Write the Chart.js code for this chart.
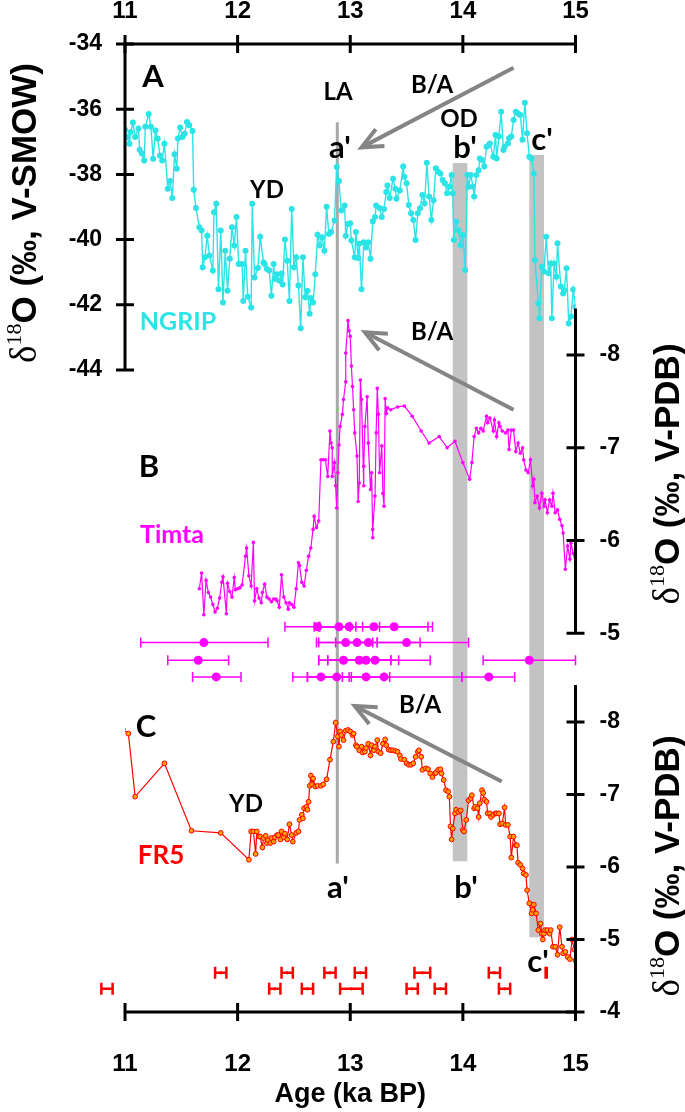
<!DOCTYPE html>
<html>
<head>
<meta charset="utf-8">
<script src="https://cdn.jsdelivr.net/npm/chart.js@4/dist/chart.umd.min.js"></script>
<style>
  html, body { margin: 0; padding: 0; background: #fff; }
</style>
</head>
<body>
<canvas id="chart" width="685" height="1112"></canvas>
<script>
// ---- data (age in ka BP, d18O in permil) ----
const xTicks = [11, 12, 13, 14, 15];
const ngripTicks = [-34, -36, -38, -40, -42, -44];
const timtaTicks = [-8, -7, -6, -5];
const fr5Ticks = [-8, -7, -6, -5, -4];

const ngripAge = [
  11.00,11.02,11.04,11.05,11.07,11.09,11.12,11.13,11.15,11.17,
  11.18,11.21,11.23,11.25,11.27,11.29,11.31,11.33,11.35,11.38,
  11.40,11.42,11.44,11.46,11.47,11.49,11.51,11.53,11.55,11.57,
  11.60,11.61,11.63,11.66,11.68,11.69,11.71,11.73,11.75,11.78,
  11.79,11.81,11.83,11.85,11.87,11.89,11.91,11.93,11.95,11.97,
  11.99,12.01,12.04,12.05,12.07,12.09,12.12,12.13,12.15,12.18,
  12.20,12.23,12.24,12.26,12.28,12.30,12.32,12.33,12.35,12.37,
  12.39,12.40,12.42,12.44,12.46,12.48,12.50,12.52,12.54,12.56,
  12.58,12.60,12.62,12.64,12.65,12.67,12.69,12.71,12.73,12.75,
  12.77,12.79,12.81,12.83,12.86,12.88,12.90,12.92,12.95,12.96,
  12.98,13.00,13.01,13.04,13.05,13.07,13.08,13.10,13.12,13.14,
  13.16,13.18,13.20,13.22,13.23,13.26,13.28,13.30,13.32,13.33,
  13.35,13.38,13.40,13.41,13.44,
  13.47,13.48,13.50,13.52,13.54,13.56,13.58,13.60,13.62,13.64,
  13.66,13.68,13.70,13.72,13.74,13.76,13.78,13.80,13.82,13.84,
  13.86,13.88,13.90,13.91,13.92,13.94,13.96,13.98,14.00,14.02,
  14.04,14.05,14.07,14.09,14.10,14.12,14.14,14.15,14.17,14.19,
  14.21,14.23,14.24,14.27,14.29,14.30,14.32,14.34,14.36,14.37,
  14.40,14.41,14.43,14.45,14.47,14.49,14.51,14.53,14.55,14.57,
  14.59,14.61,14.63,14.64,14.67,14.68,14.70,14.72,14.74,14.76,
  14.78,14.79,14.81,14.83,14.84,14.87,14.89,14.90,14.92,14.94,
  14.96,14.98,15.00
];
const ngripD18O = [
  -36.63,-36.85,-37.06,-36.70,-36.41,-36.85,-36.59,-37.24,-37.36,-37.57,
  -36.54,-36.15,-36.54,-37.52,-36.65,-36.90,-37.42,-37.57,-37.06,-38.44,
  -38.20,-38.72,-37.38,-37.83,-36.90,-36.56,-36.85,-36.75,-36.39,-36.49,
  -36.67,-38.47,-39.03,-39.62,-39.72,-40.85,-40.54,-39.88,-40.49,-40.95,
  -39.16,-38.90,-41.52,-39.72,-41.93,-40.34,-41.57,-40.59,-39.62,-40.18,
  -39.31,-40.75,-40.75,-41.88,-40.34,-41.75,-42.08,-38.90,-41.16,-40.87,
  -39.91,-40.70,-40.75,-40.90,-40.95,-41.72,-40.75,-41.21,-41.06,-41.26,
  -41.04,-41.38,-40.00,-40.65,-41.88,-39.06,-40.85,-40.54,-41.41,-42.72,
  -40.54,-41.77,-41.57,-42.27,-41.79,-41.93,-41.06,-39.85,-40.18,-39.93,
  -40.34,-38.99,-39.83,-39.77,-39.41,-37.77,-38.20,-39.11,-38.95,-39.88,
  -39.52,-39.50,-40.03,-40.54,-39.77,-40.56,-40.13,-41.52,-40.08,-40.24,
  -40.08,-40.59,-39.44,-39.31,-38.95,-39.03,-39.31,-39.06,-38.54,-38.34,
  -38.72,-38.13,-38.44,-38.75,-38.49,
  -37.76,-38.07,-38.27,-38.94,-39.19,-39.40,-40.01,-39.19,-39.04,-38.63,
  -38.89,-37.64,-38.68,-39.40,-38.79,-37.81,-37.92,-37.97,-38.17,-38.27,
  -38.58,-38.38,-38.02,-38.58,-40.01,-39.45,-39.71,-40.17,-39.86,-40.93,
  -38.02,-38.38,-38.02,-38.38,-38.68,-38.02,-37.87,-37.51,-37.56,-37.76,
  -37.15,-37.10,-37.05,-37.46,-36.79,-37.51,-36.84,-36.08,-37.25,-37.15,
  -37.05,-36.89,-36.84,-36.33,-36.08,-36.13,-36.18,-36.94,-35.80,-36.74,
  -37.46,-37.51,-37.97,-40.63,-41.95,-42.41,-40.83,-40.98,-39.91,-41.03,
  -40.73,-42.41,-40.73,-41.14,-40.11,-41.44,-41.65,-41.55,-40.88,-42.57,
  -42.36,-41.53,-42.06
];

const timtaAge = [
  11.66,11.68,11.70,11.72,11.74,11.76,11.78,11.80,11.82,11.84,
  11.86,11.87,11.90,11.91,11.93,11.95,11.97,11.98,12.00,12.02,
  12.04,12.07,12.08,12.10,12.12,12.14,12.15,12.17,12.19,12.21,
  12.22,12.24,12.26,12.28,12.30,12.32,12.34,12.35,12.37,12.39,
  12.41,12.43,12.45,12.46,12.48,12.50,12.52,12.54,12.55,12.57,
  12.59,12.61,12.63,12.65,12.67,12.68,12.70,12.72,12.74,12.76,
  12.78,12.80,12.82,12.83,12.84,12.84,12.86,12.87,12.88,12.89,
  12.90,12.91,12.93,12.94,12.96,12.96,12.98,12.99,13.00,13.01,
  13.02,13.03,13.04,13.06,13.07,13.08,13.09,13.10,13.12,13.12,
  13.13,13.15,13.16,13.18,13.19,13.20,13.20,13.22,13.23,13.24,
  13.25,13.26,13.28,13.29,13.30,13.31,13.32,13.33,13.36,13.42,
  13.48,13.55,13.63,13.70,13.79,13.86,13.93,14.00,14.06,14.08,
  14.10,14.12,14.14,14.16,14.18,14.21,14.22,14.24,14.27,14.28,
  14.30,14.32,14.33,14.35,14.38,14.40,14.41,14.43,14.45,14.47,
  14.49,14.51,14.53,14.54,14.56,14.58,14.60,14.62,14.63,14.64,
  14.66,14.68,14.70,14.72,14.73,14.75,14.77,14.79,14.80,14.82,
  14.84,14.86,14.88,14.89,14.91,14.93,14.95,14.96,14.98,15.00
];
const timtaD18O = [
  -5.48,-5.65,-5.20,-5.57,-5.44,-5.39,-5.31,-5.23,-5.27,-5.38,
  -5.55,-5.61,-5.21,-5.54,-5.45,-5.39,-5.60,-5.47,-5.48,-5.49,
  -5.52,-5.83,-5.92,-5.62,-5.51,-5.98,-5.35,-5.48,-5.38,-5.33,
  -5.44,-5.53,-5.39,-5.37,-5.34,-5.37,-5.37,-5.35,-5.28,-5.63,
  -5.39,-5.33,-5.26,-5.33,-5.31,-5.28,-5.48,-5.76,-5.73,-5.55,
  -5.51,-5.68,-5.83,-5.92,-6.12,-6.26,-6.14,-6.21,-6.87,-6.87,
  -6.87,-6.69,-7.18,-7.05,-7.00,-6.69,-6.84,-6.59,-6.35,-6.73,
  -7.03,-7.23,-7.36,-7.52,-7.71,-8.02,-8.37,-8.26,-8.20,-7.88,
  -7.66,-7.41,-7.16,-6.91,-6.42,-6.62,-7.73,-7.52,-6.59,-6.80,
  -7.23,-7.55,-7.05,-6.55,-6.73,-6.03,-6.12,-6.48,-7.16,-7.64,
  -7.36,-6.73,-7.02,-6.51,-6.37,-7.53,-7.37,-7.43,-7.41,-7.44,
  -7.45,-7.34,-7.18,-7.05,-7.12,-7.00,-7.07,-6.84,-6.66,-6.84,
  -7.12,-7.21,-7.16,-7.21,-7.18,-7.34,-7.27,-7.32,-7.18,-7.30,
  -7.12,-7.27,-7.23,-7.18,-7.16,-7.19,-6.98,-7.19,-7.19,-6.96,
  -7.05,-6.94,-7.00,-6.87,-6.76,-6.73,-6.87,-6.59,-6.66,-6.41,
  -6.48,-6.35,-6.51,-6.37,-6.44,-6.30,-6.44,-6.37,-6.51,-6.30,
  -6.33,-6.23,-6.16,-6.08,-5.69,-5.94,-5.80,-5.97,-5.86,-5.76
];

// Timta U-Th dates, drawn as rows under the record
const timtaDateAge = [12.71,12.90,12.99,13.21,13.39, 11.70,12.96,13.06,13.16,13.50, 11.65,12.94,13.08,13.14,13.22,14.59, 11.81,12.74,12.88,13.14,13.30,14.23];
const timtaDateLo  = [12.42,12.68,12.72,12.73,13.05, 11.14,12.70,12.72,12.87,13.24, 11.38,12.72,12.80,12.80,12.72,14.18, 11.60,12.49,12.62,12.93,12.62,13.99];
const timtaDateHi  = [13.00,13.11,13.26,13.69,13.73, 12.27,13.20,13.24,13.62,14.05, 11.92,13.36,13.36,13.43,13.71,15.00, 12.03,12.99,13.01,13.35,13.99,14.46];
const timtaDateLevel = [-5.07,-5.07,-5.07,-5.07,-5.07, -4.90,-4.90,-4.90,-4.90,-4.90, -4.71,-4.71,-4.71,-4.71,-4.71,-4.71, -4.53,-4.53,-4.53,-4.53,-4.53,-4.53];

const fr5Age = [
  10.98,11.03,11.09,11.35,11.59,11.85,12.10,12.12,12.14,12.16,
  12.17,12.19,12.20,12.22,12.23,12.25,12.26,12.27,12.29,12.30,
  12.32,12.33,12.35,12.36,12.38,12.39,12.41,12.42,12.44,12.46,
  12.48,12.49,12.52,12.54,12.55,12.57,12.58,12.59,12.61,12.62,
  12.63,12.64,12.65,12.66,12.67,12.69,12.71,12.74,12.76,12.79,
  12.82,12.85,12.87,12.89,12.90,12.91,12.92,12.94,12.96,12.98,
  13.00,13.02,13.03,13.05,13.06,13.08,13.10,13.11,13.13,13.14,
  13.16,13.18,13.19,13.21,13.22,13.24,13.25,13.27,13.29,13.31,
  13.32,13.34,13.36,13.38,13.40,13.42,13.44,13.45,13.48,13.50,
  13.52,13.54,13.56,13.58,13.60,13.61,13.63,13.64,13.67,13.69,
  13.71,13.73,13.75,13.76,13.78,13.80,13.81,13.83,13.85,13.87,
  13.88,13.89,13.90,13.91,13.93,13.94,13.96,13.98,14.00,14.01,
  14.03,14.05,14.07,14.08,14.10,14.11,14.13,14.14,14.15,14.17,
  14.18,14.19,14.21,14.22,14.24,14.25,14.27,14.29,14.30,14.32,
  14.33,14.35,14.37,14.38,14.40,14.42,14.43,14.45,14.47,14.48,
  14.49,14.51,14.53,14.54,14.56,14.57,14.59,14.61,14.62,14.63,
  14.65,14.67,14.69,14.70,14.71,14.72,14.73,14.75,14.77,14.78,
  14.80,14.82,14.84,14.86,14.88,14.89,14.91,14.93,14.95,14.97,
  14.99,15.00
];
const fr5D18O = [
  -7.90,-7.84,-6.97,-7.43,-6.50,-6.47,-6.10,-6.49,-6.49,-6.18,
  -6.49,-6.42,-6.42,-6.27,-6.40,-6.43,-6.33,-6.37,-6.33,-6.40,
  -6.35,-6.41,-6.44,-6.44,-6.38,-6.49,-6.41,-6.46,-6.38,-6.59,
  -6.44,-6.35,-6.47,-6.49,-6.65,-6.72,-6.67,-6.81,-6.83,-6.79,
  -6.90,-7.12,-7.26,-7.14,-7.22,-7.11,-7.12,-7.12,-7.14,-7.21,
  -7.48,-7.73,-7.99,-7.80,-7.66,-7.87,-7.82,-7.75,-7.88,-7.89,
  -7.87,-7.82,-7.84,-7.68,-7.66,-7.61,-7.66,-7.58,-7.59,-7.64,
  -7.70,-7.54,-7.68,-7.61,-7.66,-7.75,-7.59,-7.57,-7.70,-7.76,
  -7.68,-7.62,-7.61,-7.61,-7.60,-7.59,-7.54,-7.49,-7.48,-7.43,
  -7.41,-7.41,-7.43,-7.52,-7.59,-7.61,-7.52,-7.34,-7.36,-7.35,
  -7.29,-7.24,-7.29,-7.30,-7.34,-7.35,-7.29,-7.20,-7.06,-7.04,
  -6.97,-6.56,-6.38,-6.53,-6.74,-6.79,-6.76,-6.78,-6.51,-6.49,
  -6.65,-6.92,-6.95,-6.99,-6.81,-6.83,-6.81,-6.69,-6.88,-7.06,
  -7.02,-6.93,-6.90,-6.74,-6.74,-6.69,-6.72,-6.74,-6.74,-6.74,
  -6.59,-6.60,-6.82,-6.58,-6.58,-6.42,-6.13,-6.42,-6.30,-6.30,
  -6.06,-6.03,-5.98,-5.91,-5.89,-5.68,-5.50,-5.36,-5.41,-5.48,
  -5.36,-5.13,-5.22,-5.08,-5.00,-5.08,-5.13,-5.13,-5.08,-5.13,
  -4.90,-4.90,-4.79,-5.17,-4.90,-4.81,-4.83,-4.76,-4.73,-5.00,
  -4.86,-4.71
];

const fr5DateAge = [11.85,12.44,12.82,13.09,13.64,14.28,14.74, 10.84,12.33,12.62,13.01,13.55,13.80,14.37];
const fr5DateErr = [0.05,0.05,0.05,0.05,0.07,0.05,0.005, 0.05,0.05,0.05,0.10,0.05,0.05,0.05];
const fr5DateLevel = [-4.54,-4.54,-4.54,-4.54,-4.54,-4.54,-4.54, -4.32,-4.32,-4.32,-4.32,-4.32,-4.32,-4.32];

// event markers: LA line, b' and c' bands (age), tops on NGRIP scale, bottoms on FR5 scale
const laAge = 12.885, laTop = -36.4, laBottom = -6.05;
const bandFrom = [13.91, 14.59];
const bandTo = [14.04, 14.72];
const bandTop = [-37.65, -37.4];
const bandBottom = [-6.08, -5.03];

// B/A arrows: [tail age, tail value, head age, head value, axis]
const arrows = [
  [14.45, -34.73, 13.10, -37.17, 'yA'],
  [14.45, -7.41, 13.13, -8.245, 'yB'],
  [14.345, -7.18, 13.04, -8.22, 'yC']
];

const CYAN = '#2CE3E6', MAGENTA = '#FF00FF', RED = '#FF0000';

const labels = [
  ['A', 153, 87, 31, '#000'], ['LA', 338, 100, 24, '#000'], ['B/A', 432, 93, 24, '#000'],
  ['OD', 459, 127, 24, '#000'], ["a'", 340, 158, 31, '#000'], ["b'", 465, 158, 31, '#000'],
  ["c'", 542, 150, 31, '#000'], ['YD', 267, 198, 24, '#000'], ['NGRIP', 178, 330, 25, CYAN],
  ['B/A', 432, 340, 24, '#000'], ['B', 149, 477, 31, '#000'], ['Timta', 172, 543, 25, MAGENTA],
  ['B/A', 420, 713, 24, '#000'], ['C', 146, 737, 31, '#000'], ['YD', 246, 812, 24, '#000'],
  ['FR5', 161, 864, 26, RED], ["a'", 338, 898, 31, '#000'], ["b'", 466, 898, 31, '#000'],
  ["c'", 538, 972, 31, '#000']
];

function drawTitle(ctx, cx, cy, tail) {
  const parts = [
    ['\u03B4', '37px "Liberation Serif"', 0],
    ['18', '22px "Liberation Serif"', -15],
    [tail, 'bold 35px "Liberation Sans"', 0]
  ];
  let w = 0;
  parts.forEach(p => { ctx.font = p[1]; w += ctx.measureText(p[0]).width; });
  ctx.save();
  ctx.translate(cx, cy);
  ctx.rotate(-Math.PI / 2);
  ctx.fillStyle = '#000';
  ctx.textBaseline = 'alphabetic';
  ctx.textAlign = 'left';
  let x = -w / 2;
  parts.forEach(p => {
    ctx.font = p[1];
    ctx.fillText(p[0], x, 12 + p[2]);
    x += ctx.measureText(p[0]).width;
  });
  ctx.restore();
}

function drawArrow(ctx, x1, y1, x2, y2) {
  ctx.beginPath();
  ctx.moveTo(x1, y1);
  ctx.lineTo(x2, y2);
  ctx.stroke();
  const a = Math.atan2(y1 - y2, x1 - x2);
  const L = 23, w = 0.42;
  ctx.beginPath();
  ctx.moveTo(x2 + L * Math.cos(a - w), y2 + L * Math.sin(a - w));
  ctx.lineTo(x2, y2);
  ctx.lineTo(x2 + L * Math.cos(a + w), y2 + L * Math.sin(a + w));
  ctx.stroke();
}

const decor = {
  id: 'decor',
  afterLayout(chart) {
    // both right-hand axes sit on the same vertical line at age 15
    const b = chart.scales.yB, c = chart.scales.yC;
    c.left = b.left;
    c.right = b.right;
    c.width = b.width;
  },
  beforeDatasetsDraw(chart) {
    const { ctx, scales } = chart;
    const x = scales.x;
    ctx.save();
    ctx.fillStyle = '#C3C3C3';
    bandFrom.forEach((b, i) => {
      const x1 = x.getPixelForValue(bandFrom[i]);
      const x2 = x.getPixelForValue(bandTo[i]);
      const y1 = scales.yA.getPixelForValue(bandTop[i]);
      const y2 = scales.yC.getPixelForValue(bandBottom[i]);
      ctx.fillRect(x1, y1, x2 - x1, y2 - y1);
    });
    ctx.strokeStyle = '#A8A8A8';
    ctx.lineWidth = 3;
    ctx.beginPath();
    ctx.moveTo(x.getPixelForValue(laAge), scales.yA.getPixelForValue(laTop));
    ctx.lineTo(x.getPixelForValue(laAge), scales.yC.getPixelForValue(laBottom));
    ctx.stroke();

    // horizontal age error bars
    chart.data.datasets.forEach(ds => {
      if (!ds.errorBar) return;
      const ys = scales[ds.yAxisID];
      ctx.strokeStyle = ds.borderColor;
      ctx.lineWidth = ds.errorBar.width;
      const h = ds.errorBar.cap;
      ds.data.forEach(p => {
        const xa = x.getPixelForValue(p.lo), xb = x.getPixelForValue(p.hi);
        const y = ys.getPixelForValue(p.y);
        ctx.beginPath();
        ctx.moveTo(xa, y); ctx.lineTo(xb, y);
        ctx.moveTo(xa, y - h); ctx.lineTo(xa, y + h);
        ctx.moveTo(xb, y - h); ctx.lineTo(xb, y + h);
        ctx.stroke();
      });
    });
    ctx.restore();
  },
  afterDraw(chart) {
    const { ctx, scales, chartArea } = chart;
    const x = scales.x;
    ctx.save();
    // arrows
    ctx.strokeStyle = '#858585';
    ctx.lineWidth = 4;
    ctx.lineCap = 'butt';
    arrows.forEach(a => {
      const s = scales[a[4]];
      drawArrow(ctx, x.getPixelForValue(a[0]), s.getPixelForValue(a[1]),
                x.getPixelForValue(a[2]), s.getPixelForValue(a[3]));
    });

    // axes
    ctx.strokeStyle = '#000';
    ctx.lineWidth = 3;
    const xl = x.getPixelForValue(11), xr = x.getPixelForValue(15);
    [chartArea.top, chartArea.bottom].forEach(y => {
      ctx.beginPath();
      ctx.moveTo(xl - 1, y); ctx.lineTo(xr + 1, y);
      xTicks.forEach(t => {
        const px = x.getPixelForValue(t);
        ctx.moveTo(px, y - 9); ctx.lineTo(px, y + 9);
      });
      ctx.stroke();
    });
    const vAxis = (s, xp, from, to, ticks) => {
      ctx.beginPath();
      ctx.moveTo(xp, s.getPixelForValue(from));
      ctx.lineTo(xp, s.getPixelForValue(to));
      ticks.forEach(t => {
        const py = s.getPixelForValue(t);
        ctx.moveTo(xp - 9, py); ctx.lineTo(xp + 9, py);
      });
      ctx.stroke();
    };
    vAxis(scales.yA, xl, -34, -44, ngripTicks);
    vAxis(scales.yB, xr, -8.5, -5, timtaTicks);
    vAxis(scales.yC, xr, -8.51, -4, fr5Ticks);

    // annotations
    ctx.textAlign = 'center';
    ctx.textBaseline = 'alphabetic';
    labels.forEach(l => {
      ctx.font = 'bold ' + l[3] + 'px Lato';
      ctx.fillStyle = l[4];
      ctx.fillText(l[0], l[1], l[2]);
    });

    ctx.fillStyle = '#000';
    ctx.font = 'bold 27px "Liberation Sans"';
    ctx.fillText('Age (ka BP)', (xl + xr) / 2, 1102);

    drawTitle(ctx, 24, 213, 'O (\u2030, V-SMOW)');
    drawTitle(ctx, 667, 474, 'O (\u2030, V-PDB)');
    drawTitle(ctx, 667, 866, 'O (\u2030, V-PDB)');
    ctx.restore();
  }
};

const tickFont = { family: '"Liberation Sans", Arial, sans-serif', weight: 'bold', size: 24 };
const fixedTicks = list => s => { s.ticks = list.map(v => ({ value: v })); };
const hiddenGrid = { display: false, drawTicks: false };

const xy = (xs, ys) => xs.map((v, i) => ({ x: v, y: ys[i] }));

new Chart(document.getElementById('chart'), {
  type: 'scatter',
  data: {
    datasets: [
      {
        label: 'NGRIP', yAxisID: 'yA', data: xy(ngripAge, ngripD18O), showLine: true,
        borderColor: CYAN, backgroundColor: CYAN, borderWidth: 1.4,
        pointRadius: 3, pointBorderWidth: 0
      },
      {
        label: 'Timta', yAxisID: 'yB', data: xy(timtaAge, timtaD18O), showLine: true,
        borderColor: MAGENTA, backgroundColor: MAGENTA, borderWidth: 1.2,
        pointRadius: 1.8, pointBorderWidth: 0
      },
      {
        label: 'FR5', yAxisID: 'yC', data: xy(fr5Age, fr5D18O), showLine: true,
        borderColor: RED, backgroundColor: '#FFA000', borderWidth: 1.2,
        pointRadius: 2.4, pointBorderWidth: 1, pointBorderColor: RED
      },
      {
        label: 'Timta dates', yAxisID: 'yB', showLine: false,
        data: timtaDateAge.map((v, i) => ({ x: v, y: timtaDateLevel[i], lo: timtaDateLo[i], hi: timtaDateHi[i] })),
        borderColor: MAGENTA, backgroundColor: MAGENTA, pointRadius: 4.5, pointBorderWidth: 0,
        errorBar: { width: 1.5, cap: 5 }
      },
      {
        label: 'FR5 dates', yAxisID: 'yC', showLine: false,
        data: fr5DateAge.map((v, i) => ({ x: v, y: fr5DateLevel[i], lo: v - fr5DateErr[i], hi: v + fr5DateErr[i] })),
        borderColor: RED, backgroundColor: RED, pointRadius: 1.6, pointBorderWidth: 0,
        errorBar: { width: 2.5, cap: 6 }
      }
    ]
  },
  options: {
    responsive: false,
    animation: false,
    layout: { padding: 0 },
    plugins: { legend: { display: false }, tooltip: { enabled: false } },
    scales: {
      x: {
        type: 'linear', position: 'bottom', min: 11, max: 15,
        afterBuildTicks: fixedTicks(xTicks), grid: hiddenGrid, border: { display: false },
        ticks: { font: tickFont, color: '#000', padding: 38, autoSkip: false, maxRotation: 0 },
        afterFit: s => { s.height = 100; }
      },
      xTop: {
        type: 'linear', position: 'top', min: 11, max: 15,
        afterBuildTicks: fixedTicks(xTicks), grid: hiddenGrid, border: { display: false },
        ticks: { font: tickFont, color: '#000', padding: 18, autoSkip: false, maxRotation: 0 },
        afterFit: s => { s.height = 44; }
      },
      yA: {
        type: 'linear', position: 'left', min: -63.69, max: -34,
        afterBuildTicks: fixedTicks(ngripTicks), grid: hiddenGrid, border: { display: false },
        ticks: { font: { ...tickFont, size: 23 }, color: '#000', padding: 23, autoSkip: false },
        afterFit: s => { s.width = 125; }
      },
      yB: {
        type: 'linear', position: 'right', reverse: true, min: -11.352, max: -0.918,
        afterBuildTicks: fixedTicks(timtaTicks), grid: hiddenGrid, border: { display: false },
        ticks: { font: { ...tickFont, size: 23 }, color: '#000', padding: 24, autoSkip: false },
        afterFit: s => { s.width = 109.5; }
      },
      yC: {
        type: 'linear', position: 'right', reverse: true, min: -17.352, max: -4,
        afterBuildTicks: fixedTicks(fr5Ticks), grid: hiddenGrid, border: { display: false },
        ticks: { font: { ...tickFont, size: 23 }, color: '#000', padding: 24, autoSkip: false },
        afterFit: s => { s.width = 0; }
      }
    }
  },
  plugins: [decor]
});
</script>
</body>
</html>
